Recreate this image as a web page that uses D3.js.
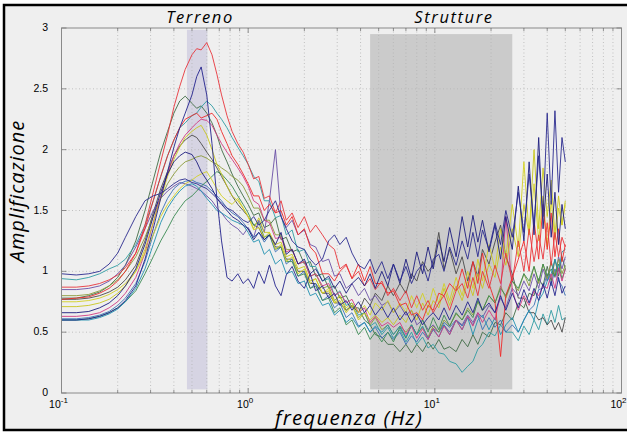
<!DOCTYPE html>
<html>
<head>
<meta charset="utf-8">
<script src="https://cdn.jsdelivr.net/npm/d3@7"></script>
<style>
  body { margin: 0; background: #fff; }
  svg { display: block; }
</style>
</head>
<body>
<svg id="chart" width="627" height="433"></svg>
<script>
// frequency grid shared by all the curves (Hz)
var freq = [0.1,0.12,0.14,0.16,0.18,0.2,0.22,0.25,0.28,0.31,
  0.34,0.37,0.4,0.43,0.46,0.5,0.53,0.56,0.6,0.64,
  0.68,0.72,0.77,0.82,0.88,0.94,1.0,1.07,1.14,1.22,
  1.3,1.4,1.5,1.6,1.72,1.85,2.0,2.15,2.3,2.5,
  2.7,2.9,3.1,3.35,3.6,3.9,4.2,4.5,4.8,5.2,
  5.6,6.0,6.5,7.0,7.5,8.0,8.6,9.2,9.8,10.5,
  11.2,12,13,14,15,16,17,18,19.5,21,
  22.5,24,26,28,30,32,34,36,38,40,
  42,44,46,48,50];

// amplification curves (one per station)
var redHigh = [0.87,0.87,0.88,0.9,0.93,0.97,1.03,1.15,1.38,1.65,
  1.9,2.12,2.35,2.52,2.66,2.78,2.83,2.82,2.88,2.78,
  2.62,2.45,2.28,2.15,2.05,1.98,1.88,1.76,1.78,1.6,
  1.62,1.48,1.58,1.42,1.48,1.36,1.45,1.32,1.38,1.3,
  1.22,1.18,1.02,1.06,0.94,1.0,0.88,0.94,0.85,0.92,
  0.8,0.86,0.76,0.84,0.7,0.8,0.68,0.76,0.66,0.74,
  0.8,0.68,0.84,0.9,0.78,0.95,0.8,1.0,0.86,1.05,
  0.9,1.15,0.92,1.25,1.0,1.35,1.08,1.3,1.1,1.4,
  1.05,1.32,1.12,1.28,1.2];
var navyPeak = [0.6,0.6,0.61,0.63,0.66,0.7,0.76,0.88,1.1,1.35,
  1.6,1.82,2.02,2.18,2.3,2.45,2.6,2.68,2.45,2.05,
  1.6,1.25,0.95,0.92,0.98,0.9,0.94,0.86,1.0,0.9,
  1.05,0.88,0.8,0.97,1.04,0.92,0.86,0.98,0.84,0.88,
  0.78,0.82,0.72,0.76,0.68,0.75,0.66,0.72,0.64,0.71,
  0.62,0.7,0.6,0.67,0.58,0.65,0.56,0.62,0.66,0.6,
  0.7,0.6,0.72,0.64,0.75,0.66,0.78,0.68,0.74,0.66,
  0.8,0.68,0.82,0.7,0.85,0.74,0.86,0.76,0.9,0.78,
  0.92,0.8,0.95,0.82,0.88];
var navyEarly = [0.98,0.97,0.98,1.0,1.06,1.15,1.28,1.45,1.58,1.62,
  1.64,1.68,1.72,1.75,1.76,1.73,1.72,1.7,1.68,1.64,
  1.6,1.56,1.52,1.5,1.46,1.42,1.4,1.45,1.38,1.42,
  1.5,1.58,1.45,1.35,1.25,1.2,1.18,1.1,1.05,1.1,
  1.25,1.3,1.22,1.28,1.15,1.05,1.02,1.1,0.98,1.08,
  0.94,1.06,0.92,1.04,0.9,1.0,1.06,0.92,1.1,1.14,
  1.0,1.2,1.05,1.25,1.1,1.32,1.12,1.34,1.18,1.4,
  1.22,1.5,1.28,1.65,1.32,1.8,1.38,1.95,1.45,2.3,
  1.55,2.32,1.65,2.1,1.9];
var greenDark = [0.78,0.78,0.8,0.83,0.88,0.95,1.05,1.25,1.5,1.75,
  1.98,2.15,2.3,2.4,2.44,2.38,2.34,2.36,2.3,2.22,
  2.12,2.0,1.9,1.8,1.7,1.62,1.55,1.46,1.48,1.36,
  1.38,1.44,1.26,1.28,1.16,1.18,1.06,1.08,0.96,0.98,
  0.86,0.88,0.78,0.8,0.7,0.7,0.6,0.56,0.48,0.46,
  0.4,0.4,0.34,0.4,0.33,0.4,0.34,0.42,0.36,0.44,
  0.36,0.38,0.34,0.44,0.38,0.48,0.4,0.5,0.46,0.58,
  0.56,0.66,0.6,0.74,0.7,0.82,0.8,0.94,0.88,1.04,
  0.92,1.1,0.96,1.12,1.02];
var teal = [0.94,0.93,0.95,0.98,1.02,1.05,1.1,1.22,1.38,1.58,
  1.78,1.95,2.08,2.18,2.22,2.28,2.3,2.35,2.4,2.36,
  2.3,2.25,2.18,2.1,2.02,1.95,1.88,1.78,1.74,1.58,
  1.58,1.44,1.46,1.3,1.34,1.16,1.18,1.04,1.04,0.92,
  0.94,0.8,0.84,0.72,0.74,0.64,0.66,0.55,0.58,0.48,
  0.54,0.45,0.52,0.42,0.5,0.4,0.46,0.37,0.4,0.33,
  0.32,0.26,0.24,0.17,0.22,0.26,0.36,0.4,0.5,0.47,
  0.56,0.5,0.5,0.43,0.55,0.48,0.6,0.52,0.65,0.56,
  0.68,0.58,0.72,0.6,0.62];
var magenta = [0.63,0.63,0.64,0.66,0.7,0.75,0.82,0.95,1.15,1.4,
  1.62,1.8,1.95,2.05,2.12,2.18,2.22,2.25,2.24,2.2,
  2.12,2.05,1.98,1.92,1.85,1.78,1.7,1.58,1.55,1.42,
  1.4,1.27,1.28,1.16,1.18,1.06,1.08,0.96,0.98,0.88,
  0.9,0.8,0.83,0.74,0.77,0.66,0.7,0.58,0.63,0.55,
  0.58,0.54,0.58,0.48,0.55,0.45,0.53,0.44,0.53,0.46,
  0.55,0.48,0.6,0.52,0.63,0.55,0.66,0.58,0.68,0.6,
  0.82,1.45,0.85,0.68,0.8,0.72,0.84,0.8,0.88,0.86,
  0.98,0.86,1.03,0.92,1.02];
var yellow = [0.71,0.71,0.72,0.74,0.77,0.82,0.88,1.0,1.18,1.4,
  1.6,1.78,1.92,2.02,2.1,2.15,2.18,2.2,2.12,2.0,
  1.88,1.8,1.7,1.62,1.58,1.52,1.45,1.35,1.44,1.32,
  1.32,1.22,1.24,1.12,1.14,1.02,1.04,0.92,0.94,0.82,
  0.84,0.74,0.76,0.66,0.72,0.6,0.66,0.6,0.64,0.58,
  0.62,0.56,0.64,0.58,0.68,0.6,0.74,0.64,0.76,0.7,
  0.86,0.72,0.88,0.76,0.92,0.8,0.98,0.86,1.06,0.95,
  1.2,1.05,1.35,1.12,1.55,1.3,2.0,1.35,1.85,1.45,
  1.75,1.3,1.62,1.38,1.58];
var grey = [0.77,0.77,0.78,0.8,0.83,0.87,0.93,1.05,1.25,1.48,
  1.68,1.82,1.95,2.03,2.08,2.12,2.1,2.05,1.98,1.92,
  1.85,1.78,1.7,1.62,1.55,1.5,1.45,1.38,1.36,1.26,
  1.3,1.2,1.2,1.1,1.1,1.0,1.0,0.9,0.9,0.82,
  0.82,0.74,0.74,0.68,0.72,0.66,0.78,0.72,0.82,0.76,
  0.88,0.8,0.9,0.82,0.98,0.92,1.08,1.0,1.05,1.32,
  1.02,1.18,0.98,1.12,0.92,1.08,0.96,1.18,1.06,1.24,
  1.38,1.12,0.98,0.78,0.78,0.66,0.66,0.6,0.62,0.56,
  0.6,0.52,0.58,0.5,0.62];
var purple = [0.85,0.85,0.86,0.88,0.92,0.98,1.05,1.2,1.35,1.5,
  1.6,1.66,1.7,1.73,1.72,1.7,1.68,1.66,1.62,1.58,
  1.52,1.48,1.42,1.38,1.35,1.3,1.36,1.28,1.42,1.32,
  1.58,2.0,1.45,1.36,1.42,1.3,1.34,1.22,1.2,1.08,
  1.1,0.96,0.98,0.86,0.9,0.8,0.86,0.76,0.8,0.72,
  0.75,0.66,0.72,0.64,0.68,0.56,0.6,0.52,0.56,0.5,
  0.56,0.5,0.6,0.56,0.64,0.58,0.66,0.62,0.72,0.66,
  0.78,0.7,0.86,0.8,0.92,0.84,0.98,0.86,1.02,0.92,
  1.08,0.95,1.12,1.02,1.12];
var blue = [0.61,0.61,0.62,0.64,0.67,0.72,0.78,0.9,1.08,1.3,
  1.48,1.6,1.68,1.72,1.74,1.75,1.73,1.72,1.7,1.66,
  1.62,1.58,1.52,1.48,1.45,1.4,1.35,1.28,1.32,1.24,
  1.3,1.16,1.2,1.06,1.1,0.96,1.0,0.86,0.9,0.76,
  0.8,0.7,0.74,0.62,0.66,0.55,0.58,0.5,0.54,0.45,
  0.5,0.44,0.5,0.4,0.47,0.42,0.5,0.44,0.53,0.5,
  0.58,0.54,0.6,0.55,0.62,0.56,0.64,0.52,0.62,0.54,
  0.6,0.5,0.56,0.5,0.6,0.68,0.72,0.85,0.86,0.98,
  0.88,1.02,0.92,0.88,0.8];
var red = [0.77,0.78,0.79,0.82,0.86,0.92,1.0,1.15,1.35,1.58,
  1.78,1.95,2.08,2.18,2.25,2.28,2.3,2.26,2.28,2.3,
  2.25,2.15,2.05,1.95,1.88,1.8,1.72,1.62,1.62,1.5,
  1.55,1.48,1.5,1.38,1.45,1.3,1.35,1.2,1.15,0.98,
  0.98,0.92,1.0,1.05,0.94,1.06,0.92,1.04,0.9,0.9,
  0.82,0.84,0.72,0.74,0.64,0.66,0.6,0.72,0.68,0.82,
  0.8,0.9,0.84,1.02,0.86,1.08,0.9,1.15,0.9,0.75,
  0.3,0.8,0.95,1.1,1.25,1.0,1.42,1.1,1.55,1.18,
  1.48,1.12,1.35,1.08,1.22];
var olive = [0.8,0.8,0.81,0.84,0.88,0.93,1.0,1.12,1.28,1.45,
  1.6,1.72,1.8,1.86,1.9,1.92,1.94,1.95,1.93,1.9,
  1.88,1.85,1.82,1.78,1.75,1.7,1.62,1.52,1.52,1.42,
  1.42,1.3,1.3,1.18,1.18,1.06,1.08,0.96,0.98,0.86,
  0.88,0.76,0.8,0.68,0.72,0.62,0.66,0.56,0.62,0.52,
  0.56,0.48,0.55,0.5,0.56,0.48,0.54,0.46,0.55,0.5,
  0.6,0.55,0.65,0.6,0.7,0.64,0.75,0.68,0.8,0.74,
  0.88,0.78,0.92,0.84,0.98,0.88,1.04,0.9,1.06,0.94,
  1.08,0.96,1.1,0.98,1.05];
var navyStruct = [0.66,0.66,0.67,0.7,0.74,0.8,0.88,1.02,1.22,1.45,
  1.65,1.8,1.9,1.95,1.98,1.96,1.9,1.82,1.75,1.68,
  1.6,1.55,1.5,1.45,1.42,1.38,1.35,1.26,1.32,1.26,
  1.3,1.22,1.32,1.14,1.18,1.06,1.1,0.98,1.02,0.92,
  0.96,0.86,0.92,0.82,0.9,0.95,0.88,0.98,0.86,1.0,
  0.88,1.06,0.9,1.1,0.94,1.16,0.98,1.2,1.02,1.26,
  1.08,1.36,1.12,1.45,1.2,1.46,1.24,1.42,1.16,1.38,
  1.1,1.45,1.18,1.7,1.25,1.9,1.3,2.1,1.35,1.8,
  1.28,1.65,1.22,1.55,1.35];
var cyan = [0.6,0.6,0.6,0.62,0.65,0.69,0.75,0.86,1.02,1.22,
  1.4,1.52,1.6,1.66,1.7,1.72,1.7,1.66,1.6,1.55,
  1.5,1.48,1.45,1.42,1.4,1.38,1.32,1.24,1.26,1.14,
  1.18,1.06,1.1,0.98,1.0,0.9,0.92,0.8,0.82,0.72,
  0.74,0.64,0.68,0.58,0.62,0.54,0.58,0.5,0.55,0.5,
  0.56,0.48,0.55,0.46,0.56,0.48,0.55,0.45,0.52,0.46,
  0.56,0.48,0.6,0.52,0.62,0.48,0.6,0.64,0.52,0.62,
  0.48,0.56,0.62,0.5,0.6,0.68,0.6,0.76,0.82,0.92,
  0.98,1.1,1.0,1.16,1.18];
var green = [0.6,0.6,0.61,0.63,0.66,0.7,0.75,0.84,0.98,1.12,
  1.25,1.35,1.45,1.52,1.58,1.62,1.66,1.7,1.74,1.78,
  1.82,1.8,1.75,1.7,1.62,1.55,1.48,1.38,1.4,1.28,
  1.3,1.18,1.2,1.08,1.08,0.96,0.98,0.86,0.88,0.76,
  0.78,0.66,0.7,0.56,0.6,0.48,0.54,0.44,0.5,0.42,
  0.5,0.42,0.54,0.45,0.56,0.48,0.6,0.5,0.62,0.52,
  0.64,0.55,0.66,0.6,0.68,0.62,0.76,0.68,0.8,0.74,
  0.86,0.8,0.92,0.86,0.98,0.92,1.04,0.92,1.06,0.96,
  1.02,0.96,1.06,0.94,1.02];
var yellow2 = [0.75,0.75,0.76,0.78,0.81,0.85,0.9,1.0,1.15,1.3,
  1.45,1.55,1.62,1.68,1.72,1.75,1.78,1.8,1.82,1.75,
  1.68,1.62,1.58,1.55,1.6,1.52,1.45,1.34,1.36,1.28,
  1.32,1.18,1.22,1.08,1.12,0.98,1.02,0.9,0.94,0.82,
  0.86,0.74,0.8,0.7,0.74,0.66,0.72,0.64,0.74,0.68,
  0.76,0.66,0.74,0.66,0.8,0.7,0.82,0.7,0.86,0.74,
  0.9,0.76,0.95,0.8,1.0,0.86,1.1,0.92,1.22,1.02,
  1.35,1.12,1.55,1.2,1.9,1.3,1.72,1.25,1.62,1.2,
  1.58,1.26,1.52,1.38,1.55];

// drawing order (last on top) and colours
var series = [greenDark, teal, grey, purple, blue, olive, green, cyan, magenta, yellow, yellow2, red, redHigh, navyPeak, navyStruct, navyEarly];
var colors = ["#3f6b45", "#2f9ca3", "#4a4a4a", "#6a4fa6", "#3a6fb4", "#8a9a3a", "#3a8a52", "#1f90b0", "#d03a82", "#c8c61e", "#d2d024", "#ee2a2a", "#e8353c", "#22228c", "#1c1c7e", "#2a2a8e"];

// shaded frequency bands
var bandNames = ["Terreno", "Strutture"];
var bandFrom = [0.47, 4.5];
var bandTo = [0.605, 26];
var bandTop = [2.985, 2.95];
var bandColors = ["#d6d4e3", "#cbcbcb"];

var yTicks = [0, 0.5, 1, 1.5, 2, 2.5, 3];
var xDecades = [0.1, 1, 10, 100];
var xExps = ["-1", "0", "1", "2"];

var svg = d3.select("#chart");

// figure background + frame
svg.append("rect").attr("x", 4).attr("y", 5).attr("width", 640).attr("height", 425)
  .attr("fill", "#efefef").attr("stroke", "#000").attr("stroke-width", 2.5);

var x = d3.scaleLog().domain([0.1, 100]).range([61.5, 621.5]);
var y = d3.scaleLinear().domain([0, 3]).range([393, 28]);

// bands
svg.selectAll("rect.band")
  .data(bandNames)
  .enter().append("rect")
    .attr("class", "band")
    .attr("x", function(d, i) { return x(bandFrom[i]); })
    .attr("width", function(d, i) { return x(bandTo[i]) - x(bandFrom[i]); })
    .attr("y", function(d, i) { return y(bandTop[i]); })
    .attr("height", function(d, i) { return y(0.03) - y(bandTop[i]); })
    .attr("fill", function(d, i) { return bandColors[i]; });

// grid
var minor = [];
[0.1, 1, 10].forEach(function(dec) {
  for (var k = 2; k <= 9; k++) minor.push(dec * k);
});
var allX = minor.concat([1, 10]);
svg.append("g").selectAll("line")
  .data(allX)
  .enter().append("line")
    .attr("x1", function(d) { return x(d); }).attr("x2", function(d) { return x(d); })
    .attr("y1", y(3)).attr("y2", y(0))
    .attr("stroke", "#b4b4b4").attr("stroke-width", 0.8).attr("stroke-dasharray", "1,2.5");
svg.append("g").selectAll("line")
  .data(yTicks.slice(1, 6))
  .enter().append("line")
    .attr("x1", x(0.1)).attr("x2", x(100))
    .attr("y1", function(d) { return y(d); }).attr("y2", function(d) { return y(d); })
    .attr("stroke", "#b4b4b4").attr("stroke-width", 0.8).attr("stroke-dasharray", "1,2.5");

// curves
var line = d3.line()
  .x(function(d, i) { return x(freq[i]); })
  .y(function(d) { return y(d); });

svg.append("g").selectAll("path")
  .data(series)
  .enter().append("path")
    .attr("d", line)
    .attr("fill", "none")
    .attr("stroke", function(d, i) { return colors[i]; })
    .attr("stroke-width", 0.9)
    .attr("stroke-linejoin", "round");

// axes box
svg.append("rect").attr("x", x(0.1)).attr("y", y(3))
  .attr("width", x(100) - x(0.1)).attr("height", y(0) - y(3))
  .attr("fill", "none").attr("stroke", "#8a8a8a").attr("stroke-width", 1);

// tick marks (inward)
var tk = svg.append("g").attr("stroke", "#777").attr("stroke-width", 0.8);
yTicks.forEach(function(v) {
  tk.append("line").attr("x1", x(0.1)).attr("x2", x(0.1) + 5).attr("y1", y(v)).attr("y2", y(v));
  tk.append("line").attr("x1", x(100)).attr("x2", x(100) - 5).attr("y1", y(v)).attr("y2", y(v));
});
allX.forEach(function(v) {
  var len = (v === 1 || v === 10) ? 5 : 3;
  tk.append("line").attr("x1", x(v)).attr("x2", x(v)).attr("y1", y(0)).attr("y2", y(0) - len);
  tk.append("line").attr("x1", x(v)).attr("x2", x(v)).attr("y1", y(3)).attr("y2", y(3) + len);
});

// tick labels
svg.append("g").selectAll("text")
  .data(yTicks)
  .enter().append("text")
    .attr("x", 48).attr("y", function(d) { return y(d) + 3; })
    .attr("text-anchor", "end")
    .style("font-family", "Liberation Sans, Arial, sans-serif").style("font-size", "10.5px")
    .text(function(d) { return d; });

var xl = svg.append("g").selectAll("text")
  .data(xDecades)
  .enter().append("text")
    .attr("x", function(d) { return x(d) - 3; }).attr("y", 408)
    .attr("text-anchor", "middle")
    .style("font-family", "Liberation Sans, Arial, sans-serif").style("font-size", "10.5px");
xl.append("tspan").text("10");
xl.append("tspan").attr("dy", -5).style("font-size", "8px").text(function(d, i) { return xExps[i]; });

// band titles
svg.append("g").selectAll("text")
  .data(bandNames)
  .enter().append("text")
    .attr("x", function(d, i) { return i === 0 ? 200 : 454; })
    .attr("y", 23)
    .attr("text-anchor", "middle")
    .style("font-family", "Open Sans, sans-serif").style("font-style", "italic")
    .style("font-size", "16.5px").style("letter-spacing", "1.6px")
    .text(function(d) { return d; });

// axis labels
svg.append("text")
  .attr("x", 349).attr("y", 425)
  .attr("text-anchor", "middle")
  .style("font-family", "Open Sans, sans-serif").style("font-style", "italic")
  .style("font-size", "20.5px").style("letter-spacing", "1.2px")
  .text("frequenza (Hz)");

svg.append("text")
  .attr("transform", "translate(24,191) rotate(-90)")
  .attr("text-anchor", "middle")
  .style("font-family", "Open Sans, sans-serif").style("font-style", "italic")
  .style("font-size", "20px").style("letter-spacing", "1px")
  .text("Amplificazione");
</script>
</body>
</html>
